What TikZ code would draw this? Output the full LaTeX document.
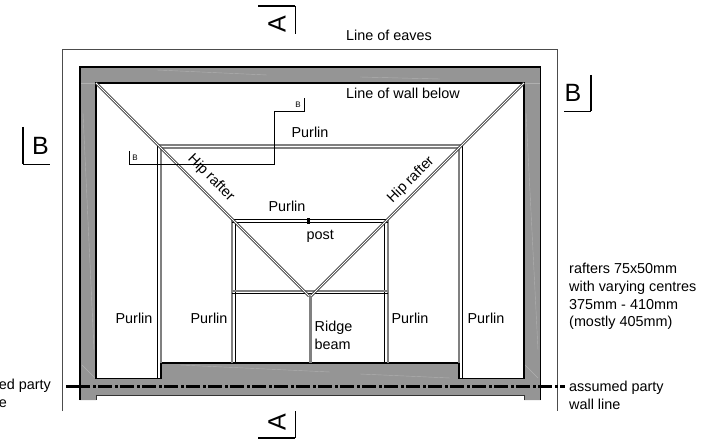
\documentclass[tikz,border=0pt]{standalone}
\usepackage{fontspec}
\setmainfont{Liberation Sans}
\definecolor{wallgrey}{HTML}{959595}
\definecolor{scratchgrey}{HTML}{B0B0B0}
\definecolor{purlingrey}{HTML}{808080}
\tikzset{
  wall/.style={draw=black,line width=1.5pt},
  wallbase/.style={draw=black!80,line width=1pt},
  purlinblack/.style={draw=black,line width=1pt},
  purlingrey/.style={draw=purlingrey,line width=1.4pt},
  hiprafter/.style={draw=black!80,line width=.8pt,double=white,double distance=1pt},
  scratch/.style={draw=scratchgrey,line width=.4pt},
  sectionbar/.style={draw=black,line width=2pt},
  sectionline/.style={draw=black,line width=.8pt},
  label/.style={font=\fontsize{14.4}{17.8}\selectfont,inner sep=0pt},
  biglabel/.style={font=\fontsize{25}{25}\selectfont,inner sep=0pt},
  smalllabel/.style={font=\fontsize{8}{8}\selectfont,inner sep=0pt}
}
\begin{document}
\begin{tikzpicture}[x=1pt,y=-1pt]
      \useasboundingbox (0,0) rectangle (720,446);
      % eaves and wall
      \draw[draw=black!70,line width=1pt] (62.5,411) -- (62.5,50) -- (557.5,50) -- (557.5,411);
      \fill[wallgrey] (80,67) -- (540.5,67) -- (540.5,400) -- (524,400) -- (524,395) -- (96,395) -- (96,400) -- (80,400) -- cycle;
      \draw[scratch] (157,70) -- (267,75);
      \draw[scratch] (360,77) -- (440,79);
      \draw[scratch] (80,83) -- (96,83);
      \draw[scratch] (524,83) -- (540,83);
      \draw[scratch] (83,113) -- (94,350);
      \draw[scratch] (526,113) -- (538,350);
      \draw[scratch] (82,365) -- (95,378);
      \draw[scratch] (525,365) -- (538,378);
      \draw[scratch] (180,365) -- (330,372);
      \draw[scratch] (360,374) -- (450,378);
      \draw[wall] (80,400) -- (80,67) -- (540.5,67) -- (540.5,400);
      \draw[wallbase] (96,400) -- (96,395) -- (524,395) -- (524,400);
      \draw[wall,fill=white] (96,83) -- (524,83) -- (524,378.5) -- (459,378.5) -- (459,363) -- (161,363) -- (161,378.5) -- (96,378.5) -- cycle;
      % outer purlins
      \draw[purlinblack] (157.5,145) -- (157.5,378);
      \draw[purlinblack] (462.5,145) -- (462.5,378);
      \draw[purlingrey] (161,148) -- (161,363);
      \draw[purlingrey] (459,148) -- (459,363);
      \draw[purlingrey] (157.5,145) -- (462.5,145);
      \draw[purlingrey] (161,148) -- (459,148);
      % inner purlins
      \draw[purlingrey] (232,220) -- (232,363);
      \draw[purlingrey] (388,220) -- (388,363);
      \draw[purlinblack] (235.5,222) -- (235.5,363);
      \draw[purlinblack] (384.5,222) -- (384.5,363);
      \draw[purlinblack] (232,219.5) -- (388,219.5);
      \draw[purlinblack] (232,222.5) -- (388,222.5);
      \draw[purlingrey] (232,291) -- (388,291);
      \draw[purlinblack] (232,293.5) -- (388,293.5);
      % ridge beam and post
      \draw[draw=purlingrey,line width=3pt] (310,296) -- (310,363);
      \fill[black] (306.5,218) rectangle (309.5,224);
      % hips
      \draw[hiprafter] (96,83) -- (309,296);
      \draw[hiprafter] (524,83) -- (311,296);
      % party wall line
      \draw[draw=black,line width=2.2pt,dash pattern=on 14pt off 3pt on 3pt off 2pt] (76,386.5) -- (565,386.5);
      \draw[draw=black,line width=2.2pt] (66,386.5) -- (76,386.5);
      % section marks
      \draw[sectionbar] (258,6) -- (295,6);
      \draw[sectionline] (295,6) -- (295,34);
      \draw[sectionbar] (258,438) -- (295,438);
      \draw[sectionline] (295,411) -- (295,438);
      \draw[sectionbar] (23,127) -- (23,164);
      \draw[sectionline] (23,164) -- (50,164);
      \draw[sectionbar] (591,75) -- (591,111.5);
      \draw[sectionline] (564,111.5) -- (591,111.5);
      \draw[sectionline] (129,151) -- (129,164) -- (274,164) -- (274,111.5) -- (304.5,111.5) -- (304.5,98);
      \node[biglabel,rotate=90] (Atop) at (277,24) {A};
      \node[biglabel,rotate=90] (Abottom) at (277,422) {A};
      \node[biglabel] (Bleft) at (40.5,146) {B};
      \node[biglabel] (Bright) at (573,93) {B};
      \node[smalllabel] (Bsmallleft) at (135,158) {B};
      \node[smalllabel] (Bsmallright) at (298,105) {B};
      % labels
      \node[label,anchor=west] (eaves) at (346,35) {Line of eaves};
      \node[label,anchor=west] (wallbelow) at (346,93) {Line of wall below};
      \node[label] (purlintop) at (310,132) {Purlin};
      \node[label] (purlinmid) at (287,206) {Purlin};
      \node[label] (purlinA) at (134,318) {Purlin};
      \node[label] (purlinB) at (209,318) {Purlin};
      \node[label] (purlinC) at (410,318) {Purlin};
      \node[label] (purlinD) at (486,318) {Purlin};
      \node[label,rotate=-45] (hipleft) at (211,178) {Hip rafter};
      \node[label,rotate=45] (hipright) at (411,180) {Hip rafter};
      \node[label,anchor=west] (post) at (306.5,236) {post};
      \node[label,anchor=west,align=left] (ridge) at (314.5,335) {Ridge\\beam};
      \node[label,anchor=west,align=left] (rafters) at (569,296.5) {rafters 75x50mm\\with varying centres\\375mm - 410mm\\(mostly 405mm)};
      \node[label,anchor=west,align=left] (partyright) at (569,395) {assumed party\\wall line};
      \node[label,anchor=east] (partyleft) at (51,386) {ed party};
      \node[label,anchor=east] (partyleftb) at (7,404) {e};
\end{tikzpicture}
\end{document}
